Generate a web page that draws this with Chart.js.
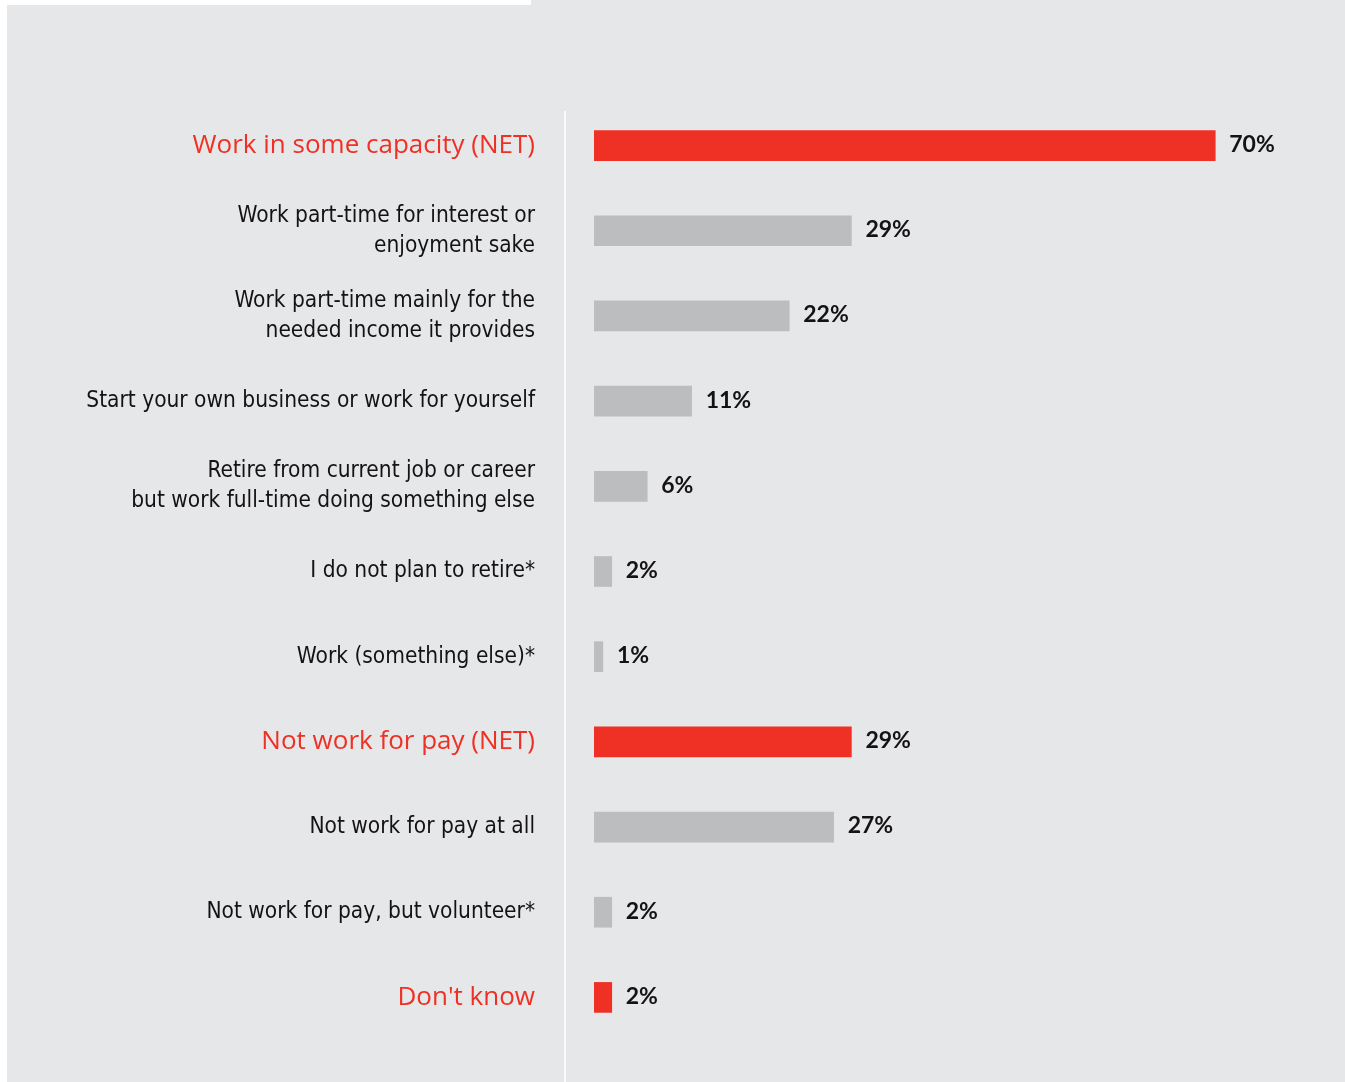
<!DOCTYPE html>
<html>
<head>
<meta charset="utf-8">
<script src="https://cdn.jsdelivr.net/npm/chart.js@4"></script>
<style>
  html, body { margin: 0; padding: 0; background: #fff; }
  #wrap { position: relative; width: 1345px; height: 1082px; }
</style>
</head>
<body>
<div id="wrap"><canvas id="chartRetire"></canvas></div>
<script>
// Ruhestandspläne: Anteil der Befragten je Antwort (in %).
const kategorien = [
  'Work in some capacity (NET)',
  ['Work part-time for interest or', 'enjoyment sake'],
  ['Work part-time mainly for the', 'needed income it provides'],
  'Start your own business or work for yourself',
  ['Retire from current job or career', 'but work full-time doing something else'],
  'I do not plan to retire*',
  'Work (something else)*',
  'Not work for pay (NET)',
  'Not work for pay at all',
  'Not work for pay, but volunteer*',
  "Don't know",
];
const werte = [70, 29, 22, 11, 6, 2, 1, 29, 27, 2, 2];
// Zeilen, die als Summe (NET) bzw. Sonderzeile rot hervorgehoben werden
const hervorgehoben = [0, 7, 10];

const ROT = '#ee3124';
const GRAU = '#bcbdbf';
const TEXT = '#141213';
const PANEL = '#e6e7e9';

const istRot = (i) => hervorgehoben.includes(i);

// Hintergrundfläche + weiße Trennlinie zwischen Beschriftung und Balken
const panel = {
  id: 'panel',
  beforeDraw(chart) {
    const { ctx, width, height, chartArea } = chart;
    ctx.save();
    ctx.fillStyle = '#fff';
    ctx.fillRect(0, 0, width, height);
    ctx.fillStyle = PANEL;
    ctx.fillRect(7, 5, width - 7, height - 5);
    ctx.fillRect(531, 0, width - 531, 5);
    ctx.fillStyle = '#fafafa';
    ctx.fillRect(chartArea.left - 30, 111, 2, height - 111);
    ctx.restore();
  },
};

// Prozentwerte rechts neben den Balken
const wertLabels = {
  id: 'wertLabels',
  afterDatasetsDraw(chart) {
    const { ctx } = chart;
    const meta = chart.getDatasetMeta(0);
    ctx.save();
    ctx.font = 'bold 23px Lato, "Open Sans", sans-serif';
    ctx.fillStyle = TEXT;
    ctx.textAlign = 'left';
    ctx.textBaseline = 'middle';
    meta.data.forEach((bar, i) => {
      ctx.fillText(`${werte[i]}%`, bar.x + 14, bar.y - 1);
    });
    ctx.restore();
  },
};

new Chart(document.getElementById('chartRetire'), {
  type: 'bar',
  data: {
    labels: kategorien,
    datasets: [{
      data: werte,
      backgroundColor: werte.map((_, i) => (istRot(i) ? ROT : GRAU)),
      barThickness: 30,
      borderWidth: 0,
    }],
  },
  options: {
    indexAxis: 'y',
    responsive: true,
    maintainAspectRatio: false,
    animation: false,
    layout: { padding: { left: 0, right: 41, top: 103, bottom: 42 } },
    plugins: { legend: { display: false }, tooltip: { enabled: false } },
    scales: {
      x: { display: false, min: 0, max: 80 },
      y: {
        grid: { display: false, drawTicks: false },
        border: { display: false },
        // feste Breite der Beschriftungsspalte, kein Extra-Rand oben/unten
        afterFit: (scale) => {
          scale.width = 594;
          scale.paddingTop = 0;
          scale.paddingBottom = 0;
        },
        ticks: {
          padding: 59,
          color: (c) => (istRot(c.index) ? ROT : TEXT),
          font: (c) => (istRot(c.index)
            ? { family: '"Open Sans", sans-serif', size: 26, lineHeight: 1.2 }
            : { family: '"Liberation Sans Narrow", "DejaVu Sans Condensed", sans-serif', size: 22.5, lineHeight: 1.333 }),
        },
      },
    },
  },
  plugins: [panel, wertLabels],
});
</script>
</body>
</html>
